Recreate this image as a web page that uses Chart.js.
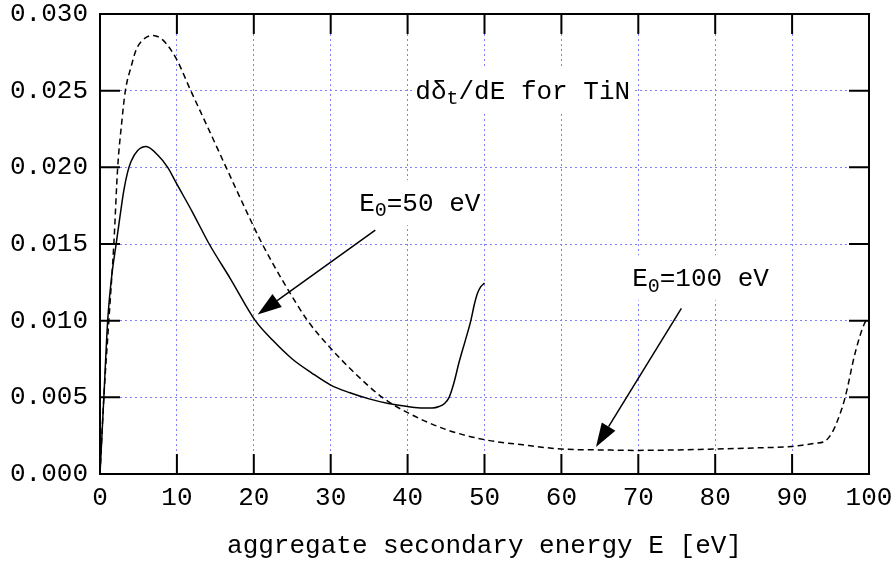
<!DOCTYPE html>
<html>
<head>
<meta charset="utf-8">
<script src="https://cdn.jsdelivr.net/npm/chart.js@4.4.0/dist/chart.umd.min.js"></script>
<style>
  html, body { margin: 0; padding: 0; background: #fff; }
</style>
</head>
<body>
<canvas id="tinChart" width="894" height="569"></canvas>
<script>
// E0 = 50 eV (solid line)
const energy50 = [0, 0.5, 1, 1.5, 2.1, 2.6, 3.1, 3.6, 4.05, 4.9, 6, 7.5, 8.8, 10, 12, 14.2, 17, 20.2, 22.5, 25, 27.5, 30, 32.5, 35, 37.5, 40, 42, 43.2, 44.1, 44.8, 45.4, 46, 46.7, 47.5, 48.2, 48.7, 49.1, 49.5, 50];
const yield50 = [0, 0.0050, 0.0100, 0.0128, 0.0150, 0.0168, 0.0185, 0.0197, 0.0204, 0.0211, 0.02136, 0.0208, 0.0200, 0.0189, 0.0171, 0.0150, 0.0127, 0.0100, 0.0087, 0.0075, 0.0066, 0.0058, 0.0053, 0.0049, 0.0046, 0.0044, 0.0043, 0.0043, 0.0044, 0.0046, 0.0050, 0.0059, 0.0073, 0.0087, 0.00995, 0.0111, 0.0118, 0.0122, 0.01245];

// E0 = 100 eV (dashed line)
const energy100 = [0, 0.5, 1.15, 1.8, 2.3, 2.8, 3.3, 4.05, 4.7, 5.56, 6.86, 8.16, 9.9, 11.8, 14, 16.4, 18.7, 21.1, 24, 27, 30, 33.3, 36.7, 40, 45, 50, 55, 60, 65, 70, 75, 80, 85, 90, 93, 94.3, 95.2, 96, 96.9, 98.2, 99.5, 100];
const yield100 = [0, 0.0050, 0.0100, 0.0150, 0.0200, 0.0228, 0.0250, 0.02657, 0.02766, 0.02831, 0.0286, 0.02831, 0.0271, 0.0250, 0.02262, 0.0200, 0.0175, 0.0150, 0.0124, 0.0100, 0.0082, 0.0065, 0.0050, 0.0040, 0.0029, 0.00224, 0.0019, 0.00163, 0.00157, 0.00154, 0.00157, 0.00163, 0.0017, 0.0018, 0.0020, 0.00215, 0.0027, 0.0036, 0.0050, 0.0079, 0.0099, 0.0101];

const xTicks = [0, 10, 20, 30, 40, 50, 60, 70, 80, 90, 100];
const yTicks = [0, 0.005, 0.010, 0.015, 0.020, 0.025, 0.030];

// text labels: position in data units, then pieces [text, isSubscript]
const notes = [
    { at: [41, 0.0249], parts: [['dδ', 0], ['t', 1], ['/dE for TiN', 0]] },
    { at: [33.7, 0.0176], parts: [['E', 0], ['0', 1], ['=50 eV', 0]] },
    { at: [69.2, 0.0127], parts: [['E', 0], ['0', 1], ['=100 eV', 0]] }
];
// arrows: from [x, y] to [x, y] in data units
const arrows = [
    [[35.8, 0.0159], [20.5, 0.0104]],
    [[75.6, 0.0108], [64.5, 0.00176]]
];

const FONT = '"Liberation Mono", "Courier New", monospace';
const tickLen = 20;

function richWidth(ctx, parts) {
    let w = 0;
    parts.forEach(p => {
        ctx.font = (p[1] ? 20 : 26) + 'px ' + FONT;
        w += ctx.measureText(p[0]).width;
    });
    return w;
}

const frameAndNotes = {
    id: 'frameAndNotes',
    beforeDatasetsDraw(chart) {
        const { ctx, scales: { x, y } } = chart;
        ctx.save();
        ctx.fillStyle = '#fff';
        notes.forEach(n => {
            const px = x.getPixelForValue(n.at[0]);
            const py = y.getPixelForValue(n.at[1]);
            const w = richWidth(ctx, n.parts);
            ctx.fillRect(px - 3, py - 24, w + 6, 45);
        });
        ctx.restore();
    },
    afterDatasetsDraw(chart) {
        const { ctx, chartArea: a, scales: { x, y } } = chart;
        ctx.save();
        ctx.setLineDash([]);
        ctx.strokeStyle = '#000';
        ctx.lineWidth = 2;
        ctx.beginPath();
        xTicks.forEach(v => {
            const px = x.getPixelForValue(v);
            ctx.moveTo(px, a.bottom); ctx.lineTo(px, a.bottom - tickLen);
            ctx.moveTo(px, a.top); ctx.lineTo(px, a.top + tickLen);
        });
        yTicks.forEach(v => {
            const py = y.getPixelForValue(v);
            ctx.moveTo(a.left, py); ctx.lineTo(a.left + tickLen, py);
            ctx.moveTo(a.right, py); ctx.lineTo(a.right - tickLen, py);
        });
        ctx.stroke();
        ctx.strokeRect(a.left, a.top, a.right - a.left, a.bottom - a.top);

        // labels
        ctx.fillStyle = '#000';
        ctx.textBaseline = 'middle';
        ctx.textAlign = 'left';
        notes.forEach(n => {
            let px = x.getPixelForValue(n.at[0]);
            const py = y.getPixelForValue(n.at[1]);
            n.parts.forEach(p => {
                ctx.font = (p[1] ? 20 : 26) + 'px ' + FONT;
                ctx.fillText(p[0], px, p[1] ? py + 7 : py);
                px += ctx.measureText(p[0]).width;
            });
        });

        // arrows
        ctx.lineWidth = 1.5;
        arrows.forEach(ar => {
            const x0 = x.getPixelForValue(ar[0][0]), y0 = y.getPixelForValue(ar[0][1]);
            const x1 = x.getPixelForValue(ar[1][0]), y1 = y.getPixelForValue(ar[1][1]);
            const ang = Math.atan2(y1 - y0, x1 - x0);
            const hl = 24, hw = 8;
            const bx = x1 - hl * Math.cos(ang), by = y1 - hl * Math.sin(ang);
            ctx.beginPath();
            ctx.moveTo(x0, y0);
            ctx.lineTo(bx, by);
            ctx.stroke();
            ctx.beginPath();
            ctx.moveTo(x1, y1);
            ctx.lineTo(bx + hw * Math.sin(ang), by - hw * Math.cos(ang));
            ctx.lineTo(bx - hw * Math.sin(ang), by + hw * Math.cos(ang));
            ctx.closePath();
            ctx.fill();
        });
        ctx.restore();
    }
};

const gridStyle = {
    color: '#7f7fff',
    lineWidth: 1,
    drawTicks: false
};

function noPad(s) {
    s.paddingTop = 0;
    s.paddingBottom = 0;
    s.paddingLeft = 0;
    s.paddingRight = 0;
}

new Chart(document.getElementById('tinChart'), {
    type: 'line',
    data: {
        datasets: [{
            label: 'E0=50 eV',
            data: energy50.map((e, i) => ({ x: e, y: yield50[i] })),
            borderColor: '#000',
            borderWidth: 1.5,
            pointRadius: 0,
            cubicInterpolationMode: 'monotone',
            fill: false
        }, {
            label: 'E0=100 eV',
            data: energy100.map((e, i) => ({ x: e, y: yield100[i] })),
            borderColor: '#000',
            borderWidth: 1.5,
            borderDash: [6, 4],
            pointRadius: 0,
            cubicInterpolationMode: 'monotone',
            fill: false
        }]
    },
    options: {
        responsive: false,
        animation: false,
        layout: { padding: { top: 14, right: 25, left: 0, bottom: 0 } },
        plugins: {
            legend: { display: false },
            tooltip: { enabled: false }
        },
        scales: {
            x: {
                type: 'linear',
                min: 0,
                max: 100,
                afterFit: s => { s.height = 95; noPad(s); },
                afterBuildTicks: s => { s.ticks = xTicks.map(v => ({ value: v })); },
                border: { display: false, dash: [2, 3] },
                grid: gridStyle,
                ticks: {
                    color: '#000',
                    padding: 9,
                    maxRotation: 0,
                    font: { family: FONT, size: 26 }
                },
                title: {
                    display: true,
                    text: 'aggregate secondary energy E [eV]',
                    color: '#000',
                    padding: { top: 0, bottom: 7 },
                    font: { family: FONT, size: 26 }
                }
            },
            y: {
                min: 0,
                max: 0.03,
                afterFit: s => { s.width = 100; noPad(s); },
                afterBuildTicks: s => { s.ticks = yTicks.map(v => ({ value: v })); },
                border: { display: false, dash: [2, 3] },
                grid: gridStyle,
                ticks: {
                    color: '#000',
                    padding: 12,
                    font: { family: FONT, size: 26, lineHeight: 1 },
                    callback: v => v.toFixed(3)
                }
            }
        }
    },
    plugins: [frameAndNotes]
});
</script>
</body>
</html>
